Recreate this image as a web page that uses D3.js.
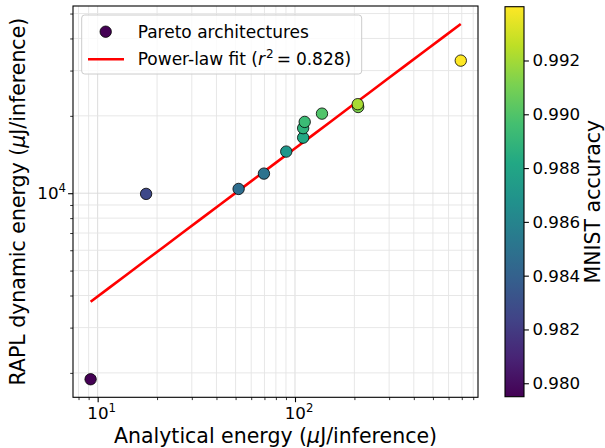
<!DOCTYPE html>
<html>
<head>
<meta charset="utf-8">
<script src="https://cdn.jsdelivr.net/npm/d3@7"></script>
<style>
  body { margin: 0; background: #fff; }
  text { font-family: "DejaVu Sans", sans-serif; fill: #000; }
</style>
</head>
<body>
<svg id="chart" width="605" height="448"></svg>
<script>
// analytical energy (uJ/inference), measured RAPL energy, MNIST accuracy
var energyAnalytical = [9.21, 17.6, 51.8, 69.6, 90.3, 110, 110, 112, 137, 209, 208, 692];
var energyRapl = [1889, 9940, 10390, 11920, 14520, 16450, 17910, 18940, 20400, 21650, 22200, 32800];
var accuracy = [0.9795, 0.9827, 0.9846, 0.9850, 0.9872, 0.9882, 0.9889, 0.9894, 0.9900, 0.9912, 0.9921, 0.9940];

// power-law fit  y = coef * x^exp
var fitCoef = 1053;
var fitExp = 0.576;
var fitR2 = "0.828";

var xMajor = [10, 100];
var xMajorLabels = [["10", "1"], ["10", "2"]];
var yMajor = [10000];
var yMajorLabels = [["10", "4"]];
var cbTicks = [0.980, 0.982, 0.984, 0.986, 0.988, 0.990, 0.992];

var svg = d3.select("#chart");

var pLeft = 73, pRight = 478, pTop = 6, pBottom = 397.3;
var tickFont = 16.7;
var legendFont = 17;

var x = d3.scaleLog().domain([7.5, 846]).range([pLeft, pRight]);
var y = d3.scaleLog().domain([1607, 53500]).range([pBottom, pTop]);
var color = d3.scaleSequential(d3.interpolateViridis).domain(d3.extent(accuracy));

var xAll = x.ticks().filter(function(d) { return d >= 7.5 && d <= 846; });
var yAll = y.ticks().filter(function(d) { return d >= 1607 && d <= 53500; });
function isMajor(d) { return Math.abs(Math.log10(d) - Math.round(Math.log10(d))) < 1e-9; }

//grid
svg.append("g").selectAll("line").data(xAll).enter()
	.append("line")
	.attr("x1", function(d) { return x(d); })
	.attr("x2", function(d) { return x(d); })
	.attr("y1", pTop).attr("y2", pBottom)
	.attr("stroke", function(d) { return isMajor(d) ? "#d8d8d8" : "#e4e4e4"; })
	.attr("stroke-width", 0.9);

svg.append("g").selectAll("line").data(yAll).enter()
	.append("line")
	.attr("y1", function(d) { return y(d); })
	.attr("y2", function(d) { return y(d); })
	.attr("x1", pLeft).attr("x2", pRight)
	.attr("stroke", function(d) { return isMajor(d) ? "#d8d8d8" : "#e4e4e4"; })
	.attr("stroke-width", 0.9);

//axes (tick marks only, labels drawn below)
var xAxis = d3.axisBottom(x).tickValues(xAll).tickFormat("").tickSize(0);
var gx = svg.append("g").attr("transform", "translate(0," + pBottom + ")").call(xAxis);
gx.select(".domain").remove();
gx.selectAll(".tick line")
	.attr("y2", function(d) { return isMajor(d) ? 4.9 : 2.8; })
	.attr("stroke", "#000").attr("stroke-width", function(d) { return isMajor(d) ? 1.1 : 0.8; });

var yAxis = d3.axisLeft(y).tickValues(yAll).tickFormat("").tickSize(0);
var gy = svg.append("g").attr("transform", "translate(" + pLeft + ",0)").call(yAxis);
gy.select(".domain").remove();
gy.selectAll(".tick line")
	.attr("x2", function(d) { return isMajor(d) ? -4.9 : -2.8; })
	.attr("stroke", "#000").attr("stroke-width", function(d) { return isMajor(d) ? 1.1 : 0.8; });

//tick labels with superscripts
xMajor.forEach(function(v, i) {
	var t = svg.append("text")
		.attr("x", x(v) + 4).attr("y", 419)
		.attr("text-anchor", "middle")
		.style("font-size", tickFont + "px");
	t.append("tspan").text(xMajorLabels[i][0]);
	t.append("tspan").attr("dy", -7).style("font-size", "11.7px").text(xMajorLabels[i][1]);
});
yMajor.forEach(function(v, i) {
	var t = svg.append("text")
		.attr("x", 66).attr("y", y(v) + 6)
		.attr("text-anchor", "end")
		.style("font-size", tickFont + "px");
	t.append("tspan").text(yMajorLabels[i][0]);
	t.append("tspan").attr("dy", -7).style("font-size", "11.7px").text(yMajorLabels[i][1]);
});

//fit line
var fitX = d3.extent(energyAnalytical);
var fitPts = d3.range(0, 21).map(function(i) {
	var lx = Math.log10(fitX[0]) + i / 20 * (Math.log10(fitX[1]) - Math.log10(fitX[0]));
	var xv = Math.pow(10, lx);
	return [xv, fitCoef * Math.pow(xv, fitExp)];
});
svg.append("path")
	.attr("d", d3.line().x(function(d) { return x(d[0]); }).y(function(d) { return y(d[1]); })(fitPts))
	.attr("fill", "none")
	.attr("stroke", "#ff0000")
	.attr("stroke-width", 2.6);

//points
svg.append("g").selectAll("circle").data(energyAnalytical).enter()
	.append("circle")
	.attr("cx", function(d) { return x(d); })
	.attr("cy", function(d, i) { return y(energyRapl[i]); })
	.attr("r", 5.7)
	.attr("fill", function(d, i) { return color(accuracy[i]); })
	.attr("stroke", "#000")
	.attr("stroke-width", 0.8);

//frame
svg.append("rect")
	.attr("x", pLeft).attr("y", pTop)
	.attr("width", pRight - pLeft).attr("height", pBottom - pTop)
	.attr("fill", "none").attr("stroke", "#000").attr("stroke-width", 1.1);

//axis labels
svg.append("text")
	.attr("x", (pLeft + pRight) / 2).attr("y", 443)
	.attr("text-anchor", "middle")
	.style("font-size", "20.5px")
	.html("Analytical energy (<tspan font-style='italic'>μ</tspan>J/inference)");
svg.append("text")
	.attr("transform", "translate(25," + ((pTop + pBottom) / 2) + ") rotate(-90)")
	.attr("text-anchor", "middle")
	.style("font-size", "20.5px")
	.html("RAPL dynamic energy (<tspan font-style='italic'>μ</tspan>J/inference)");

//legend
var lg = svg.append("g");
lg.append("rect")
	.attr("x", 81.7).attr("y", 15).attr("width", 280).attr("height", 59).attr("rx", 3)
	.attr("fill", "#fff").attr("fill-opacity", 0.8)
	.attr("stroke", "#cccccc").attr("stroke-width", 1);
lg.append("circle")
	.attr("cx", 105.7).attr("cy", 31.7).attr("r", 5.7)
	.attr("fill", color(d3.min(accuracy))).attr("stroke", "#000").attr("stroke-width", 0.8);
lg.append("text").attr("x", 137.7).attr("y", 37.8).style("font-size", legendFont + "px")
	.text("Pareto architectures");
lg.append("line")
	.attr("x1", 88).attr("x2", 124).attr("y1", 59.3).attr("y2", 59.3)
	.attr("stroke", "#ff0000").attr("stroke-width", 2.6);
var lt = lg.append("text").attr("x", 137.7).attr("y", 65.3).style("font-size", legendFont + "px");
lt.append("tspan").text("Power-law fit (");
lt.append("tspan").attr("font-style", "italic").text("r");
lt.append("tspan").attr("dy", -7).attr("dx", 1).style("font-size", "12px").text("2");
lt.append("tspan").attr("dy", 7).attr("dx", 3).text("=");
lt.append("tspan").attr("dx", 5).text(fitR2 + ")");

//colorbar
var cbL = 505, cbW = 19, cbTop = 6.7, cbBottom = 396.7;
var defs = svg.append("defs");
var grad = defs.append("linearGradient").attr("id", "cbgrad")
	.attr("x1", 0).attr("x2", 0).attr("y1", 1).attr("y2", 0);
d3.range(0, 11).forEach(function(i) {
	grad.append("stop").attr("offset", (i * 10) + "%").attr("stop-color", d3.interpolateViridis(i / 10));
});
svg.append("rect")
	.attr("x", cbL).attr("y", cbTop).attr("width", cbW).attr("height", cbBottom - cbTop)
	.attr("fill", "url(#cbgrad)").attr("stroke", "#000").attr("stroke-width", 1.1);

var cbScale = d3.scaleLinear().domain(d3.extent(accuracy)).range([cbBottom, cbTop]);
var cbAxis = d3.axisRight(cbScale).tickValues(cbTicks).tickFormat(d3.format(".3f"))
	.tickSize(4.9).tickPadding(3.5);
var gc = svg.append("g").attr("transform", "translate(" + (cbL + cbW) + ",0)").call(cbAxis);
gc.select(".domain").remove();
gc.selectAll(".tick line").attr("stroke", "#000").attr("stroke-width", 1.1);
gc.selectAll(".tick text")
	.style("font-family", "DejaVu Sans").style("font-size", tickFont + "px").attr("fill", "#000");

svg.append("text")
	.attr("transform", "translate(600," + ((cbTop + cbBottom) / 2) + ") rotate(-90)")
	.attr("text-anchor", "middle")
	.style("font-size", "20.5px")
	.text("MNIST accuracy");
</script>
</body>
</html>
